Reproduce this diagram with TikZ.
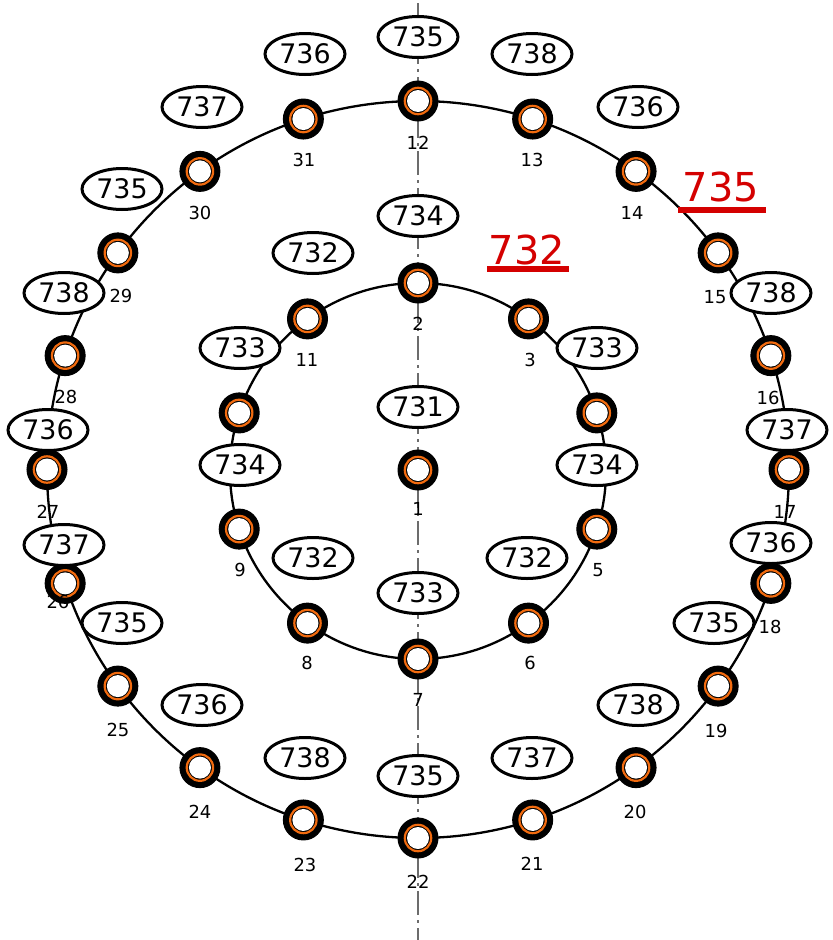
\documentclass[tikz,border=0pt]{standalone}
\usepackage{fontspec}
\setmainfont{DejaVu Sans}
\usetikzlibrary{shapes.geometric}
\definecolor{ringor}{HTML}{F26B0F}
\definecolor{markred}{HTML}{D40000}
\tikzset{
  hole/.style={circle, fill=black, draw=black, line width=1bp, minimum size=40bp, inner sep=0pt,
    path picture={\fill[white] (path picture bounding box.center) circle (11bp);
      \draw[ringor, line width=2.2bp] (path picture bounding box.center) circle (13.2bp);}},
  tag/.style={ellipse, draw=black, fill=white, line width=3bp, minimum width=80bp, minimum height=41bp,
    inner sep=0pt, font=\fontsize{27}{27}\selectfont},
  num/.style={inner sep=0pt, font=\fontsize{18}{18}\selectfont},
  redtag/.style={text=markred, fill=white, inner sep=1bp, font=\fontsize{40}{40}\selectfont},
  redbar/.style={fill=markred},
  ringline/.style={draw=black, line width=2.3bp},
  axisline/.style={draw=gray!85!black, line width=1.5bp, dash pattern=on 24bp off 5bp on 3bp off 5bp}
}
\begin{document}
\begin{tikzpicture}[x=1bp,y=-1bp]
\useasboundingbox (0,0) rectangle (833,940);
% centre line
\coordinate (axtop) at (418,3);
\coordinate (axbot) at (418,940);
\draw[axisline] (axtop) -- (axbot);
% rings
\coordinate (oc) at (418,469.5);
\coordinate (ic) at (418,471);
\draw[ringline] (oc) ellipse [x radius=371, y radius=368.5];
\draw[ringline] (ic) circle [radius=188];
% red marks (white boxes hide the ring)
\node[redtag] (r735) at (721,187) {735};
\fill[redbar] (678,207) rectangle (766,213);
\node[redtag] (r732) at (527,250) {732};
\fill[redbar] (487,266) rectangle (569,272);
% outer holes 12..31
\foreach \n in {12,...,31}{
  \pgfmathsetmacro\ang{90-18*(\n-12)}
  \node[hole] (o\n) at ({418+371*cos(\ang)},{469.5-368.5*sin(\ang)}) {};
}
% inner holes 2..11
\foreach \n in {2,...,11}{
  \pgfmathsetmacro\ang{90-36*(\n-2)}
  \node[hole] (i\n) at ({418+188*cos(\ang)},{471-188*sin(\ang)}) {};
}
\node[hole] (i1) at (418,470) {};
% outer tags
\node[tag] (t1)  at (418,37)  {735};
\node[tag] (t2)  at (305,54)  {736};
\node[tag] (t3)  at (532,54)  {738};
\node[tag] (t4)  at (202,107) {737};
\node[tag] (t5)  at (638,107) {736};
\node[tag] (t6)  at (122,189) {735};
\node[tag] (t7)  at (64,293)  {738};
\node[tag] (t8)  at (771,293) {738};
\node[tag] (t9)  at (48,430)  {736};
\node[tag] (t10) at (787,430) {737};
\node[tag] (t11) at (64,545)  {737};
\node[tag] (t12) at (771,543) {736};
\node[tag] (t13) at (122,623) {735};
\node[tag] (t14) at (714,623) {735};
\node[tag] (t15) at (202,705) {736};
\node[tag] (t16) at (638,705) {738};
\node[tag] (t17) at (305,758) {738};
\node[tag] (t18) at (532,758) {737};
\node[tag] (t19) at (418,776) {735};
% inner tags
\node[tag] (u1)  at (418,216) {734};
\node[tag] (u2)  at (313,253) {732};
\node[tag] (u3)  at (240,348) {733};
\node[tag] (u4)  at (597,348) {733};
\node[tag] (u5)  at (418,407) {731};
\node[tag] (u6)  at (240,465) {734};
\node[tag] (u7)  at (597,465) {734};
\node[tag] (u8)  at (313,558) {732};
\node[tag] (u9)  at (527,558) {732};
\node[tag] (u10) at (418,593) {733};
% number labels
\node[num] (l12) at (418,143) {12};
\node[num] (l13) at (532,160) {13};
\node[num] (l14) at (632,213) {14};
\node[num] (l15) at (715,297) {15};
\node[num] (l16) at (768,398) {16};
\node[num] (l17) at (785,512) {17};
\node[num] (l18) at (770,627) {18};
\node[num] (l19) at (716,731) {19};
\node[num] (l20) at (635,812) {20};
\node[num] (l21) at (532,864) {21};
\node[num] (l22) at (418,882) {22};
\node[num] (l23) at (305,865) {23};
\node[num] (l24) at (200,812) {24};
\node[num] (l25) at (118,730) {25};
\node[num] (l26) at (58,602)  {26};
\node[num] (l27) at (48,512)  {27};
\node[num] (l28) at (66,397)  {28};
\node[num] (l29) at (121,296) {29};
\node[num] (l30) at (200,213) {30};
\node[num] (l31) at (304,160) {31};
\node[num] (l2)  at (418,324) {2};
\node[num] (l3)  at (530,360) {3};
\node[num] (l1)  at (418,509) {1};
\node[num] (l5)  at (598,570) {5};
\node[num] (l6)  at (530,663) {6};
\node[num] (l7)  at (418,700) {7};
\node[num] (l8)  at (307,663) {8};
\node[num] (l9)  at (240,570) {9};
\node[num] (l11) at (307,360) {11};
\end{tikzpicture}
\end{document}
